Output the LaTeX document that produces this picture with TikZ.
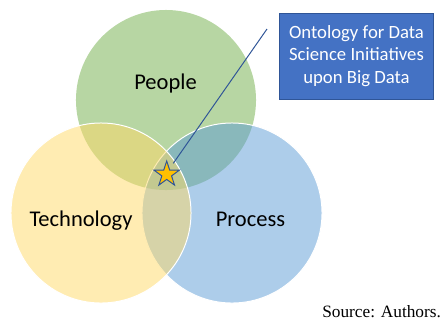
\documentclass[tikz,border=0pt]{standalone}
\usepackage{fontspec}
\setmainfont{Carlito}
\newfontfamily\notefont{Liberation Serif}
\usetikzlibrary{shapes.geometric}

\definecolor{peoplegreen}{HTML}{70AD47}
\definecolor{techyellow}{HTML}{FFD966}
\definecolor{processblue}{HTML}{5B9BD5}
\definecolor{boxblue}{HTML}{4472C4}
\definecolor{edgeblue}{HTML}{2F5597}
\definecolor{stargold}{HTML}{FFC000}

\begin{document}
\begin{tikzpicture}[
    x=0.025cm, y=-0.025cm,
    ring/.style={circle, minimum size=4.5cm, inner sep=0pt, outer sep=0pt, fill opacity=0.5},
    setlabel/.style={anchor=base, font=\fontsize{16}{19}\selectfont},
    callout/.style={draw=edgeblue, line width=0.7pt},
    notebox/.style={rectangle, draw=edgeblue, line width=0.7pt, fill=boxblue,
        minimum width=3.825cm, minimum height=2.15cm, align=center,
        text=white, font=\fontsize{13.3}{16}\selectfont}
]
\useasboundingbox (0,0) rectangle (447,324);
% the three sets, people at the back
\node[ring, fill=peoplegreen] (people) at (166,100) {};
\node[ring, fill=processblue, draw=white, line width=0.7pt] (process) at (232,213) {};
\node[ring, fill=techyellow, draw=white, line width=0.7pt] (technology) at (101,213) {};
\node[setlabel] (peoplelabel) at (165.5,89) {People};
\node[setlabel] (techlabel) at (81,226.5) {Technology};
\node[setlabel] (processlabel) at (250.5,226.5) {Process};
% pointer to the common part
\coordinate (pin) at (173.3,163.3);
\coordinate (lead) at (267,29);
\draw[callout] (lead) -- (pin);
\node[star, star points=5, star point ratio=2.6, minimum size=0.665cm, inner sep=0pt,
    fill=stargold, draw=edgeblue, line width=0.7pt] (star) at (166.7,174.3) {};
\node[notebox] (note) at (356.5,56) {Ontology for Data\\Science Initiatives\\upon Big Data};
\node[anchor=base west, inner sep=0pt, font=\notefont\fontsize{12.3}{15}\selectfont] (source) at (322,317.5) {Source: Authors.};
\end{tikzpicture}
\end{document}
